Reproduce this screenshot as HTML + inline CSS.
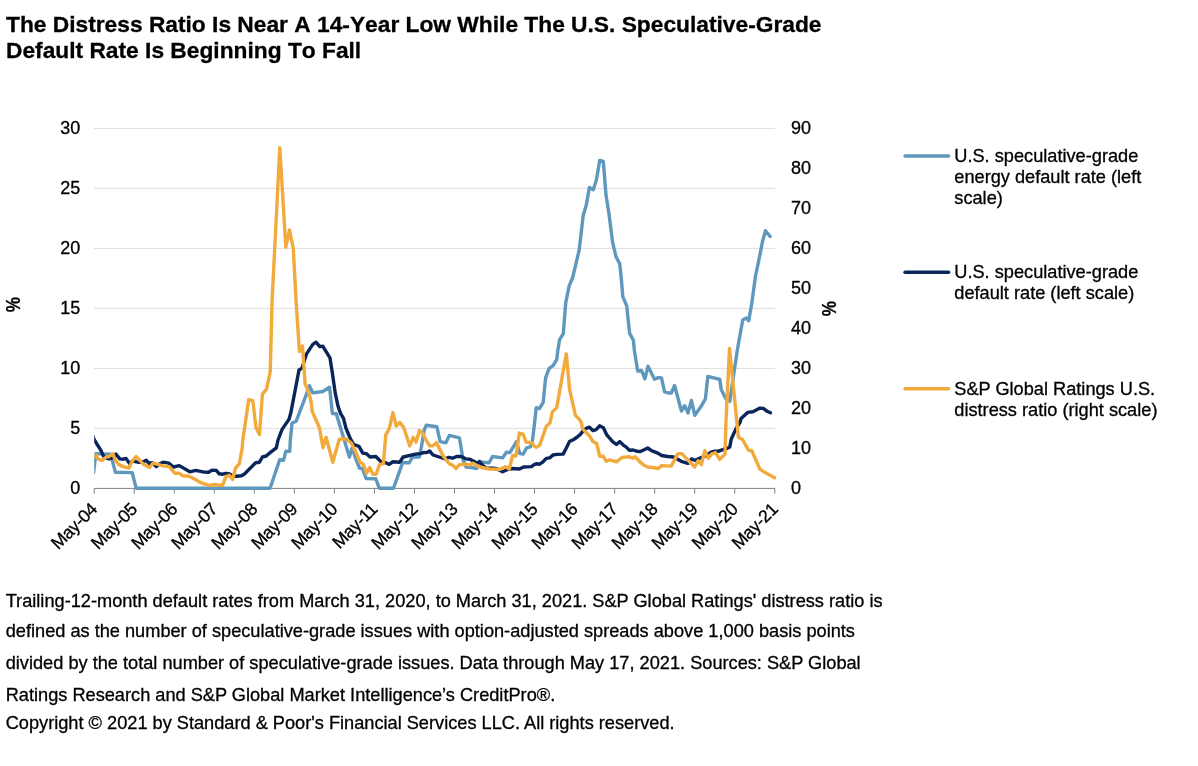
<!DOCTYPE html>
<html><head><meta charset="utf-8"><title>Chart</title>
<style>
html,body{margin:0;padding:0;background:#fff;}
body{width:1198px;height:766px;position:relative;overflow:hidden;font-family:"Liberation Sans",Arial,sans-serif;color:#000;}
h1{position:absolute;left:6px;top:11px;margin:0;font-size:22.76px;line-height:26px;font-weight:bold;letter-spacing:0;white-space:nowrap;font-kerning:none;-webkit-text-stroke:0.3px #000;}
.nl{position:absolute;left:5.7px;margin:0;font-size:18.21px;line-height:20px;white-space:nowrap;-webkit-text-stroke:0.3px #000;}
svg{position:absolute;left:0;top:0;}
.ax{font-size:18px;fill:#000;stroke:#000;stroke-width:0.3px;font-family:"Liberation Sans",Arial,sans-serif;}
.xl{font-size:17.7px;letter-spacing:-0.4px;}
.lg{font-size:18.2px;fill:#000;stroke:#000;stroke-width:0.3px;font-family:"Liberation Sans",Arial,sans-serif;}
.pc{font-size:20.8px;font-weight:bold;fill:#000;stroke:#000;stroke-width:0.3px;font-family:"Liberation Sans",Arial,sans-serif;}
</style></head><body>
<h1>The Distress Ratio Is Near A 14-Year Low While The U.S. Speculative-Grade<br>Default Rate Is Beginning To Fall</h1>
<svg width="1198" height="766" viewBox="0 0 1198 766">
<line x1="94.2" x2="775.0" y1="128.4" y2="128.4" stroke="#dedede" stroke-width="1"/><line x1="94.2" x2="775.0" y1="188.4" y2="188.4" stroke="#dedede" stroke-width="1"/><line x1="94.2" x2="775.0" y1="248.4" y2="248.4" stroke="#dedede" stroke-width="1"/><line x1="94.2" x2="775.0" y1="308.4" y2="308.4" stroke="#dedede" stroke-width="1"/><line x1="94.2" x2="775.0" y1="368.4" y2="368.4" stroke="#dedede" stroke-width="1"/><line x1="94.2" x2="775.0" y1="428.4" y2="428.4" stroke="#dedede" stroke-width="1"/>
<line x1="94.2" x2="775.0" y1="488.4" y2="488.4" stroke="#7f7f7f" stroke-width="1"/>
<line x1="94.20" x2="94.20" y1="488.4" y2="493.6" stroke="#7f7f7f" stroke-width="1"/><line x1="134.24" x2="134.24" y1="488.4" y2="493.6" stroke="#7f7f7f" stroke-width="1"/><line x1="174.27" x2="174.27" y1="488.4" y2="493.6" stroke="#7f7f7f" stroke-width="1"/><line x1="214.31" x2="214.31" y1="488.4" y2="493.6" stroke="#7f7f7f" stroke-width="1"/><line x1="254.34" x2="254.34" y1="488.4" y2="493.6" stroke="#7f7f7f" stroke-width="1"/><line x1="294.38" x2="294.38" y1="488.4" y2="493.6" stroke="#7f7f7f" stroke-width="1"/><line x1="334.41" x2="334.41" y1="488.4" y2="493.6" stroke="#7f7f7f" stroke-width="1"/><line x1="374.45" x2="374.45" y1="488.4" y2="493.6" stroke="#7f7f7f" stroke-width="1"/><line x1="414.48" x2="414.48" y1="488.4" y2="493.6" stroke="#7f7f7f" stroke-width="1"/><line x1="454.52" x2="454.52" y1="488.4" y2="493.6" stroke="#7f7f7f" stroke-width="1"/><line x1="494.55" x2="494.55" y1="488.4" y2="493.6" stroke="#7f7f7f" stroke-width="1"/><line x1="534.59" x2="534.59" y1="488.4" y2="493.6" stroke="#7f7f7f" stroke-width="1"/><line x1="574.62" x2="574.62" y1="488.4" y2="493.6" stroke="#7f7f7f" stroke-width="1"/><line x1="614.66" x2="614.66" y1="488.4" y2="493.6" stroke="#7f7f7f" stroke-width="1"/><line x1="654.69" x2="654.69" y1="488.4" y2="493.6" stroke="#7f7f7f" stroke-width="1"/><line x1="694.73" x2="694.73" y1="488.4" y2="493.6" stroke="#7f7f7f" stroke-width="1"/><line x1="734.76" x2="734.76" y1="488.4" y2="493.6" stroke="#7f7f7f" stroke-width="1"/><line x1="774.80" x2="774.80" y1="488.4" y2="493.6" stroke="#7f7f7f" stroke-width="1"/>
<defs><clipPath id="pc"><rect x="94.2" y="100" width="700" height="395"/></clipPath></defs>
<g fill="none" stroke-linejoin="round" stroke-linecap="round" stroke-width="3.4" clip-path="url(#pc)">
<polyline stroke="#5f98bd" points="93.6,472.5 95.8,453.6 110.6,454.1 115.4,472.3 132.2,472.6 136.1,488.2 204.2,488.2 219.2,488.2 270.1,488.2 279.7,459.8 283.5,460.3 285.9,451.2 289.8,451.2 290.3,440.0 292.1,423.0 296.2,421.2 306.0,395.3 309.4,385.7 312.8,392.9 322.8,391.5 329.6,387.2 332.4,413.6 336.3,413.8 340.6,428.0 349.4,457.0 352.2,447.8 355.6,458.4 359.4,468.0 362.3,468.5 366.2,478.6 375.8,478.8 379.3,488.2 393.5,488.2 402.6,462.7 409.4,462.7 412.2,457.4 415.6,457.0 419.4,457.0 421.4,446.9 424.2,430.1 426.2,425.3 436.8,426.7 440.2,441.6 445.9,442.8 449.3,435.4 459.4,437.8 463.2,460.3 466.1,467.0 471.8,467.5 476.6,468.5 479.5,461.3 482.9,462.2 489.1,462.7 492.5,456.5 502.6,457.9 506.4,452.2 509.8,452.6 516.5,441.6 519.8,453.6 523.2,454.1 526.6,447.8 530.4,446.9 532.5,440.2 534.8,421.0 536.2,407.6 539.4,408.6 543.2,402.3 545.6,377.8 549.0,368.7 553.3,365.4 556.7,359.6 557.9,350.0 559.5,339.9 563.3,333.6 565.7,302.9 569.1,286.1 572.7,277.5 579.2,249.9 583.2,215.5 586.3,205.1 589.4,187.4 593.3,189.7 596.4,180.1 599.7,160.4 603.3,161.5 606.0,195.1 609.0,214.0 612.6,242.4 616.0,256.6 619.7,263.7 621.2,277.5 622.8,296.7 626.7,305.8 629.6,333.2 633.4,340.4 634.3,350.0 637.7,371.1 641.5,370.4 644.9,378.8 648.0,366.3 654.5,379.3 658.3,377.6 661.5,378.0 664.6,391.8 668.4,393.0 671.3,393.0 674.6,385.5 681.4,411.0 684.7,405.7 688.1,412.9 691.4,400.4 694.8,415.3 701.5,405.7 705.4,399.0 707.8,376.4 719.8,379.3 721.2,389.4 726.0,399.0 729.8,401.4 733.2,377.8 737.3,350.3 742.7,320.0 746.5,318.1 748.7,320.6 751.7,303.8 753.6,290.0 755.5,276.0 759.3,257.9 762.7,240.7 765.5,230.7 770.1,236.5"/>
<polyline stroke="#0a2559" points="92.5,435.0 94.2,439.7 97.2,444.5 100.6,449.8 103.4,456.0 106.8,458.4 109.2,458.9 112.6,457.9 115.9,454.1 119.8,458.9 123.1,459.2 126.0,458.4 129.4,463.4 132.7,461.1 138.0,462.2 142.3,462.2 146.2,460.3 149.0,463.2 152.4,462.7 156.2,466.6 159.1,464.2 163.0,462.2 168.7,463.2 173.5,467.0 179.3,465.6 189.8,471.8 195.6,470.4 204.2,472.1 208.6,472.3 212.0,470.1 216.3,470.4 219.2,473.8 222.6,474.2 225.9,473.3 229.8,474.0 232.6,476.2 236.5,476.2 241.3,475.7 244.2,474.2 255.7,462.7 259.5,462.2 262.4,457.0 266.2,456.0 270.1,452.6 276.3,447.8 278.0,440.0 282.1,429.4 288.9,419.4 290.8,413.0 299.0,370.0 299.6,369.6 302.0,368.2 306.4,354.2 312.6,344.6 316.0,342.2 319.8,346.6 322.7,346.1 330.0,357.9 332.4,373.2 335.3,393.4 338.2,406.8 340.6,413.6 343.5,418.4 345.9,428.0 350.3,438.7 353.7,444.5 359.0,446.4 362.8,453.1 366.2,453.6 370.0,457.0 375.8,456.5 381.5,462.2 385.8,462.7 389.2,464.4 392.6,461.8 399.8,462.2 403.1,457.0 415.6,454.1 420.4,453.6 424.2,452.4 426.7,452.6 429.6,450.9 433.0,455.0 439.2,457.0 445.0,458.9 448.8,457.4 452.6,458.2 456.5,456.5 461.3,456.5 466.1,458.9 469.9,459.2 473.8,461.3 477.1,463.2 479.5,461.8 482.4,465.1 486.2,468.0 493.0,468.3 496.8,468.8 502.6,471.8 506.4,469.9 512.2,468.5 519.4,469.0 523.7,467.0 531.4,466.6 534.2,464.6 536.2,463.7 539.6,464.2 543.0,461.8 546.3,458.4 549.7,457.9 553.0,455.0 556.9,454.4 563.1,454.1 566.5,447.8 569.4,441.6 573.2,439.7 577.0,437.3 580.4,434.4 583.3,430.6 586.6,428.2 589.5,427.2 592.9,430.6 596.2,429.6 599.6,425.8 603.4,427.7 606.8,434.9 612.6,441.6 616.4,444.5 619.8,441.6 623.6,445.4 626.0,446.9 629.4,450.2 633.2,450.0 636.6,451.2 640.4,451.5 644.2,449.8 647.7,448.0 651.5,450.7 657.8,453.1 661.6,455.5 667.8,456.5 673.6,457.0 681.3,461.3 688.0,463.4 691.4,458.9 695.2,460.3 699.5,458.4 706.2,455.5 711.0,452.2 714.9,451.2 718.7,451.2 723.5,449.3 726.4,448.8 729.8,446.9 731.2,439.2 736.0,428.6 739.8,422.9 741.1,418.5 747.6,412.4 752.9,411.7 760.0,408.1 763.3,408.4 767.2,411.3 770.4,412.8"/>
<polyline stroke="#f2aa3c" points="92.5,457.0 96.2,455.5 98.6,459.4 102.0,460.3 106.3,457.0 109.2,456.5 112.8,453.8 115.4,460.3 118.8,464.6 123.1,466.6 128.9,468.0 132.2,461.3 136.1,456.5 142.8,463.7 149.5,467.5 152.9,463.2 157.2,464.2 163.0,465.9 169.2,466.6 175.0,473.3 179.3,473.3 182.6,475.7 188.9,476.2 192.7,478.1 200.4,482.4 204.2,484.0 204.8,483.8 209.6,485.5 214.4,484.5 219.2,485.3 222.6,485.3 225.9,476.6 229.3,475.2 232.6,479.5 235.5,468.0 239.4,463.7 242.2,447.8 242.8,440.0 248.7,399.7 252.8,400.6 256.0,427.6 259.5,434.4 262.4,394.2 266.5,389.2 270.2,372.0 272.1,300.0 279.8,147.6 285.8,247.2 289.5,230.0 293.3,248.3 296.0,300.0 299.4,351.5 302.5,346.0 305.1,383.8 308.0,390.5 310.8,400.1 312.3,411.6 316.6,421.2 319.5,428.0 323.0,447.8 326.1,437.3 332.8,462.2 339.3,439.2 345.5,438.7 351.3,443.0 355.6,451.7 359.9,462.2 363.3,464.2 366.6,473.3 369.7,467.5 372.9,474.2 376.2,474.2 379.6,464.6 383.4,463.7 385.8,434.9 389.2,428.6 392.9,412.6 396.2,426.2 399.8,422.4 403.6,427.2 409.8,445.9 413.2,437.3 416.1,442.1 419.4,430.6 422.8,433.4 424.8,437.8 429.6,445.9 433.0,445.9 436.3,442.6 443.5,456.5 449.3,463.7 452.6,465.1 456.0,468.5 459.4,464.6 466.1,464.2 469.4,465.1 472.8,463.2 479.5,467.0 489.1,469.0 499.7,469.4 505.9,466.6 509.3,469.0 512.6,455.5 516.0,456.0 519.4,433.0 523.2,434.4 526.1,442.1 531.4,442.6 534.2,446.1 536.2,447.4 539.6,445.4 546.3,426.2 550.0,423.0 552.4,411.9 556.7,407.6 566.3,353.8 569.6,389.4 575.4,415.3 579.2,419.1 581.6,423.0 582.3,428.6 589.5,435.8 592.9,441.6 596.7,443.5 599.6,456.0 603.4,456.5 606.3,461.3 609.7,459.8 616.4,461.8 622.2,457.4 629.4,456.7 632.7,458.2 635.1,456.7 641.4,463.2 644.2,465.3 647.7,467.0 652.5,467.5 658.2,468.5 661.6,465.6 671.2,466.1 677.9,453.6 681.8,453.6 694.7,467.0 698.1,460.8 701.4,464.6 704.8,450.7 708.2,458.4 711.5,454.1 715.4,452.6 719.7,459.4 725.0,454.1 726.0,421.0 729.5,348.5 736.8,421.0 738.4,437.3 742.7,439.7 748.5,450.2 751.8,450.7 760.0,469.4 763.3,471.4 774.6,477.8"/>
</g>
<text x="80.2" y="494.4" text-anchor="end" class="ax">0</text><text x="80.2" y="434.4" text-anchor="end" class="ax">5</text><text x="80.2" y="374.4" text-anchor="end" class="ax">10</text><text x="80.2" y="314.4" text-anchor="end" class="ax">15</text><text x="80.2" y="254.4" text-anchor="end" class="ax">20</text><text x="80.2" y="194.4" text-anchor="end" class="ax">25</text><text x="80.2" y="134.4" text-anchor="end" class="ax">30</text><text x="790.9" y="494" text-anchor="start" class="ax">0</text><text x="790.9" y="454" text-anchor="start" class="ax">10</text><text x="790.9" y="414" text-anchor="start" class="ax">20</text><text x="790.9" y="374" text-anchor="start" class="ax">30</text><text x="790.9" y="334" text-anchor="start" class="ax">40</text><text x="790.9" y="294" text-anchor="start" class="ax">50</text><text x="790.9" y="254" text-anchor="start" class="ax">60</text><text x="790.9" y="214" text-anchor="start" class="ax">70</text><text x="790.9" y="174" text-anchor="start" class="ax">80</text><text x="790.9" y="134" text-anchor="start" class="ax">90</text><text transform="translate(98.3,510.3) rotate(-45)" text-anchor="end" class="ax xl">May-04</text><text transform="translate(138.3,510.3) rotate(-45)" text-anchor="end" class="ax xl">May-05</text><text transform="translate(178.4,510.3) rotate(-45)" text-anchor="end" class="ax xl">May-06</text><text transform="translate(218.4,510.3) rotate(-45)" text-anchor="end" class="ax xl">May-07</text><text transform="translate(258.4,510.3) rotate(-45)" text-anchor="end" class="ax xl">May-08</text><text transform="translate(298.5,510.3) rotate(-45)" text-anchor="end" class="ax xl">May-09</text><text transform="translate(338.5,510.3) rotate(-45)" text-anchor="end" class="ax xl">May-10</text><text transform="translate(378.5,510.3) rotate(-45)" text-anchor="end" class="ax xl">May-11</text><text transform="translate(418.6,510.3) rotate(-45)" text-anchor="end" class="ax xl">May-12</text><text transform="translate(458.6,510.3) rotate(-45)" text-anchor="end" class="ax xl">May-13</text><text transform="translate(498.7,510.3) rotate(-45)" text-anchor="end" class="ax xl">May-14</text><text transform="translate(538.7,510.3) rotate(-45)" text-anchor="end" class="ax xl">May-15</text><text transform="translate(578.7,510.3) rotate(-45)" text-anchor="end" class="ax xl">May-16</text><text transform="translate(618.8,510.3) rotate(-45)" text-anchor="end" class="ax xl">May-17</text><text transform="translate(658.8,510.3) rotate(-45)" text-anchor="end" class="ax xl">May-18</text><text transform="translate(698.8,510.3) rotate(-45)" text-anchor="end" class="ax xl">May-19</text><text transform="translate(738.9,510.3) rotate(-45)" text-anchor="end" class="ax xl">May-20</text><text transform="translate(778.9,510.3) rotate(-45)" text-anchor="end" class="ax xl">May-21</text>
<text transform="translate(20.1,304.6) rotate(-90) scale(0.824,1)" text-anchor="middle" class="pc">%</text>
<text transform="translate(835.95,308.6) rotate(-90) scale(0.824,1)" text-anchor="middle" class="pc">%</text>
<g stroke-width="3.4" stroke-linecap="round">
<line x1="905" x2="948.6" y1="156" y2="156" stroke="#5f98bd"/>
<line x1="905" x2="948.6" y1="272.3" y2="272.3" stroke="#0a2559"/>
<line x1="905" x2="948.6" y1="388.8" y2="388.8" stroke="#f2aa3c"/>
</g>
<text class="lg"><tspan x="954.3" y="161.5">U.S. speculative-grade</tspan><tspan x="954.3" y="182.8">energy default rate (left</tspan><tspan x="954.3" y="203.7">scale)</tspan></text>
<text class="lg"><tspan x="954.3" y="277.8">U.S. speculative-grade</tspan><tspan x="954.3" y="298.7">default rate (left scale)</tspan></text>
<text class="lg"><tspan x="954.3" y="395.0">S&amp;P Global Ratings U.S.</tspan><tspan x="954.3" y="416.3">distress ratio (right scale)</tspan></text>
</svg>
<div class="nl" style="top:591px">Trailing-12-month default rates from March 31, 2020, to March 31, 2021. S&amp;P Global Ratings' distress ratio is</div>
<div class="nl" style="top:621px">defined as the number of speculative-grade issues with option-adjusted spreads above 1,000 basis points</div>
<div class="nl" style="top:653px">divided by the total number of speculative-grade issues. Data through May 17, 2021. Sources: S&amp;P Global</div>
<div class="nl" style="top:685px">Ratings Research and S&amp;P Global Market Intelligence’s CreditPro®.</div>
<div class="nl" style="top:713px">Copyright © 2021 by Standard &amp; Poor's Financial Services LLC. All rights reserved.</div>
</body></html>
